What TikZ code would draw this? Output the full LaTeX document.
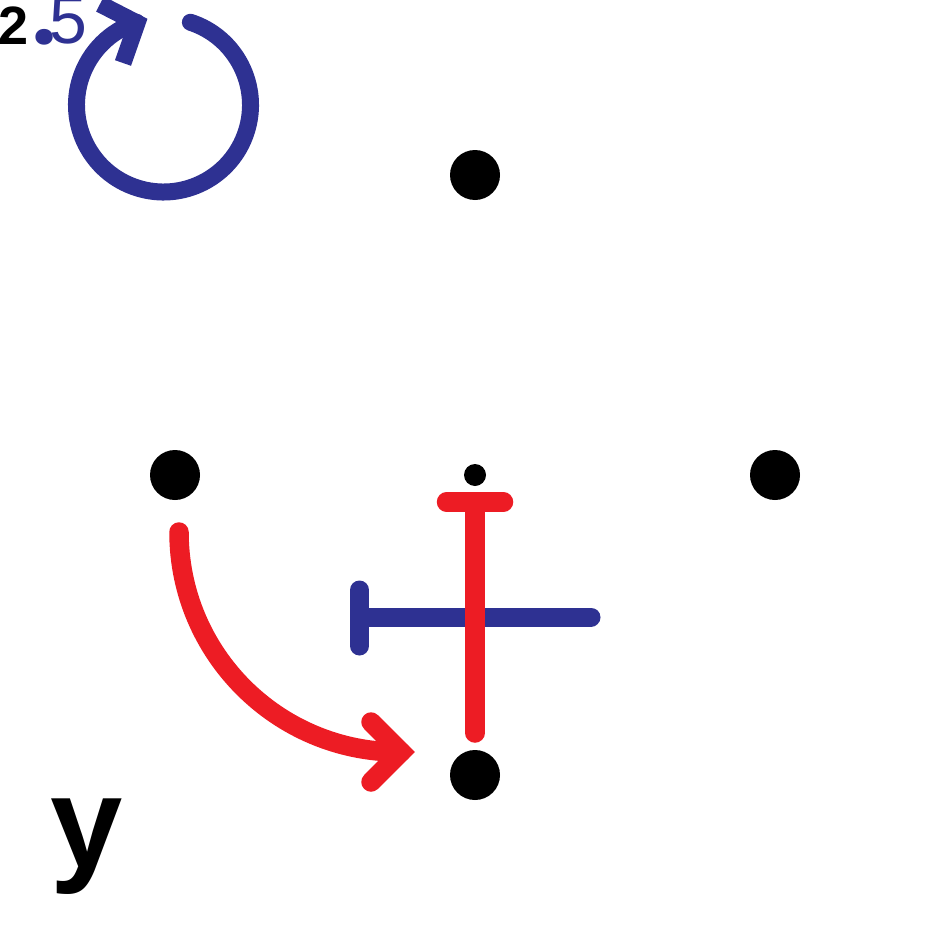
\documentclass[tikz,border=0pt]{standalone}
\usepackage{fontspec}
\setmainfont{Liberation Sans}
\newfontfamily\dotfont{Poppins}
\definecolor{bluec}{HTML}{2E3192}
\definecolor{redc}{HTML}{ED1C24}
\begin{document}
\begin{tikzpicture}[x=1pt,y=-1pt,
  bigdot/.style={circle,fill=black,inner sep=0pt,minimum size=50pt},
  smalldot/.style={circle,fill=black,inner sep=0pt,minimum size=22pt},
  bluestroke/.style={draw=bluec,line width=19pt,line cap=round},
  bluering/.style={draw=bluec,line width=17pt},
  redstroke/.style={draw=redc,line width=19.5pt,line cap=round},
  lbl/.style={inner sep=0pt,anchor=base west}]
\useasboundingbox (0,0) rectangle (950,950);

% dots
\node[bigdot] (top) at (475,175) {};
\node[bigdot] (left) at (175,475) {};
\node[bigdot] (right) at (775,475) {};
\node[bigdot] (bottom) at (475,775) {};
\node[smalldot] (center) at (475,475) {};

% labels
\node[lbl,font=\fontsize{54}{54}\selectfont\bfseries] (two) at (-2,45) {2};
\node[lbl,font=\fontsize{85}{85}\dotfont\bfseries,text=bluec] (pt) at (32,45) {.};
\node[lbl,font=\fontsize{68}{68}\selectfont,text=bluec] (five) at (49,44) {5};
\node[lbl,font=\fontsize{130}{130}\selectfont\bfseries] (ylbl) at (50.5,867) {y};

% blue T bar
\coordinate (bl) at (359.5,617);
\coordinate (br) at (591,617);
\coordinate (blt) at (359.5,590);
\coordinate (blb) at (359.5,646);
\draw[bluestroke] (bl) -- (br);
\draw[bluestroke] (blt) -- (blb);

% red T bar
\coordinate (rt) at (475,502);
\coordinate (rb) at (475,733);
\coordinate (rtl) at (446.5,502);
\coordinate (rtr) at (503.5,502);
\draw[redstroke] (rt) -- (rb);
\draw[redstroke] (rtl) -- (rtr);

% red curved arrow
\coordinate (rs) at (179,532);
\coordinate (ra) at (401,752);
\coordinate (ru) at (371,722);
\coordinate (rd) at (371,782);
\draw[redstroke] (rs) arc[start angle=180,end angle=90,radius=220] -- (ra);
\draw[redstroke,line join=miter,line cap=round] (ru) -- (ra) -- (rd);

% blue rotation arrow
\coordinate (cc) at (163.5,105);
\coordinate (ba) at (137,23);
\coordinate (bu) at (100,4);
\coordinate (bd) at (123,63);
\draw[bluering,line cap=round] ([shift={(-72:87)}]cc) arc[start angle=-72,end angle=252,radius=87];
\draw[bluering,line join=miter,line cap=butt] (bu) -- (ba) -- (bd);
\end{tikzpicture}
\end{document}
